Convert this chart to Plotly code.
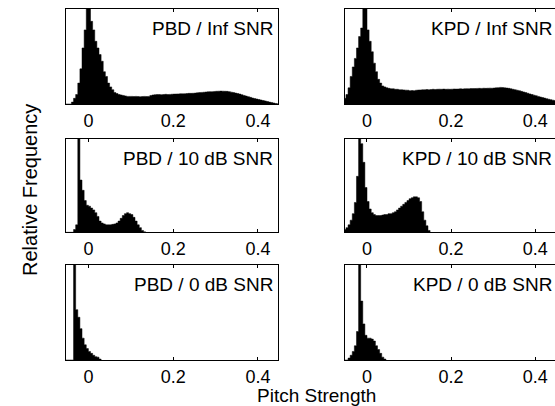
import plotly.graph_objects as go
from plotly.subplots import make_subplots

# histogram bins: left edge of first bin and bin width (pitch strength)
bin_start = -0.055
bin_width = 0.005

panel_titles = ["PBD / Inf SNR", "KPD / Inf SNR",
                "PBD / 10 dB SNR", "KPD / 10 dB SNR",
                "PBD / 0 dB SNR", "KPD / 0 dB SNR"]

tick_vals = [0, 0.2, 0.4]
tick_text = ["0", "0.2", "0.4"]

# relative frequency per bin (scaled so that 1 = top of each panel)
pbd_inf = [0, 0, 0, 0.02, 0.06, 0.10, 0.22, 0.37, 0.59, 0.78,
           1.1, 1.1, 0.87, 0.78, 0.66, 0.59, 0.52, 0.45, 0.34, 0.29,
           0.22, 0.18, 0.15, 0.12, 0.11, 0.10, 0.095, 0.09, 0.085, 0.08,
           0.08, 0.08, 0.078, 0.08, 0.078, 0.076, 0.078, 0.08, 0.079, 0.08,
           0.09, 0.095, 0.098, 0.10, 0.10, 0.098, 0.10, 0.102, 0.10, 0.101,
           0.103, 0.104, 0.105, 0.106, 0.108, 0.107, 0.108, 0.11, 0.112, 0.112,
           0.113, 0.115, 0.118, 0.12, 0.122, 0.124, 0.126, 0.128, 0.13, 0.13,
           0.132, 0.134, 0.135, 0.136, 0.135, 0.134, 0.133, 0.13, 0.125, 0.12,
           0.115, 0.11, 0.104, 0.097, 0.09, 0.083, 0.077, 0.07, 0.063, 0.057,
           0.052, 0.047, 0.042, 0.037, 0.032, 0.026, 0.02, 0.015, 0.01, 0.005,
           0.002]
kpd_inf = [0.06, 0.10, 0.17, 0.29, 0.39, 0.48, 0.59, 0.71, 0.80, 1.2,
           1.2, 0.78, 0.66, 0.55, 0.43, 0.34, 0.26, 0.22, 0.19, 0.18,
           0.17, 0.165, 0.16, 0.16, 0.155, 0.155, 0.15, 0.15, 0.148, 0.146,
           0.145, 0.14, 0.142, 0.14, 0.145, 0.147, 0.148, 0.15, 0.15, 0.152,
           0.15, 0.152, 0.155, 0.153, 0.155, 0.156, 0.155, 0.157, 0.155, 0.156,
           0.155, 0.156, 0.158, 0.157, 0.158, 0.16, 0.158, 0.16, 0.161, 0.16,
           0.162, 0.162, 0.163, 0.164, 0.165, 0.164, 0.166, 0.165, 0.166, 0.167,
           0.166, 0.168, 0.17, 0.172, 0.175, 0.173, 0.17, 0.168, 0.165, 0.16,
           0.155, 0.15, 0.145, 0.14, 0.133, 0.127, 0.12, 0.113, 0.106, 0.10,
           0.093, 0.087, 0.08, 0.074, 0.068, 0.062, 0.056, 0.05, 0.045, 0.04,
           0.036]
pbd_10db = [0, 0, 0, 0, 0.03, 0.08, 1.1, 0.56, 0.45, 0.34,
            0.29, 0.28, 0.26, 0.24, 0.21, 0.17, 0.12, 0.10, 0.09, 0.08,
            0.08, 0.08, 0.085, 0.09, 0.10, 0.12, 0.15, 0.18, 0.20, 0.21,
            0.20, 0.19, 0.16, 0.12, 0.08, 0.05, 0.02, 0.005]
kpd_10db = [0.03, 0.05, 0.08, 0.13, 0.20, 0.32, 0.60, 1.05, 0.95, 0.75,
            0.48, 0.33, 0.25, 0.21, 0.19, 0.18, 0.18, 0.18, 0.185, 0.19,
            0.19, 0.20, 0.20, 0.21, 0.22, 0.24, 0.26, 0.28, 0.30, 0.32,
            0.34, 0.36, 0.37, 0.38, 0.38, 0.37, 0.33, 0.22, 0.13, 0.07,
            0.02]
pbd_0db = [0, 0, 0, 0, 1.1, 0.53, 0.45, 0.33, 0.23, 0.16,
           0.12, 0.09, 0.07, 0.05, 0.035, 0.03, 0.01]
kpd_0db = [0, 0, 0.02, 0.05, 0.09, 0.15, 0.30, 1.1, 0.62, 0.38,
           0.26, 0.23, 0.23, 0.22, 0.20, 0.15, 0.11, 0.07, 0.03, 0.01]

series = [pbd_inf, kpd_inf, pbd_10db, kpd_10db, pbd_0db, kpd_0db]

W, H = 555, 406
font_family = "Liberation Sans, Arial, sans-serif"

# panel boxes in pixels (left, right, top, bottom)
col_px = [(65.5, 278.3), (344.7, 555)]
row_px = [(9, 104), (139, 232.3), (265, 360)]
col_range = [[-0.054, 0.448], [-0.053, 0.447]]

fig = make_subplots(rows=3, cols=2)

for i, vals in enumerate(series):
    r, c = i // 2 + 1, i % 2 + 1
    # staircase outline of the histogram: one point per bin edge
    edges = [bin_start + bin_width * k for k in range(len(vals) + 1)]
    fig.add_trace(go.Scatter(x=edges, y=list(vals) + [0], mode="lines",
                             line=dict(shape="hv", color="black", width=0.5),
                             fill="tozeroy", fillcolor="black",
                             showlegend=False, hoverinfo="skip"),
                  row=r, col=c)
    x0, x1 = col_px[c - 1]
    y0, y1 = row_px[r - 1]
    fig.update_xaxes(domain=[x0 / W, x1 / W], range=col_range[c - 1],
                     tickvals=tick_vals, ticktext=tick_text,
                     ticks="inside", ticklen=3, tickcolor="black",
                     showline=True, linecolor="black", linewidth=1,
                     mirror="ticks", showgrid=False, zeroline=False,
                     tickfont=dict(family=font_family, size=18, color="black"),
                     row=r, col=c)
    fig.update_yaxes(domain=[1 - y1 / H, 1 - y0 / H], range=[0, 1],
                     showticklabels=False, ticks="",
                     showline=True, linecolor="black", linewidth=1,
                     mirror=(c == 1), showgrid=False, zeroline=False,
                     row=r, col=c)
    n = "" if i == 0 else str(i + 1)
    fig.add_annotation(text=panel_titles[i], xref=f"x{n} domain",
                       yref=f"y{n} domain", x=1, y=1,
                       xanchor="right", yanchor="top",
                       xshift=-3 if c == 1 else -1, yshift=-7,
                       showarrow=False,
                       font=dict(family=font_family, size=19, color="black"))

fig.add_annotation(text="Relative Frequency", xref="paper", yref="paper",
                   x=30 / W, y=1 - 190 / H, textangle=-90,
                   xanchor="center", yanchor="middle", showarrow=False,
                   font=dict(family=font_family, size=20, color="black"))
fig.add_annotation(text="Pitch Strength", xref="paper", yref="paper",
                   x=316 / W, y=1 - 395 / H,
                   xanchor="center", yanchor="middle", showarrow=False,
                   font=dict(family=font_family, size=19, color="black"))

fig.update_layout(width=W, height=H,
                  margin=dict(l=0, r=0, t=0, b=0),
                  paper_bgcolor="white", plot_bgcolor="white")

# drop the page's default body margin so the figure sits at the window corner
fig.write_html("out.html", config={"displayModeBar": False},
               post_script="document.body.style.margin='0px';")
